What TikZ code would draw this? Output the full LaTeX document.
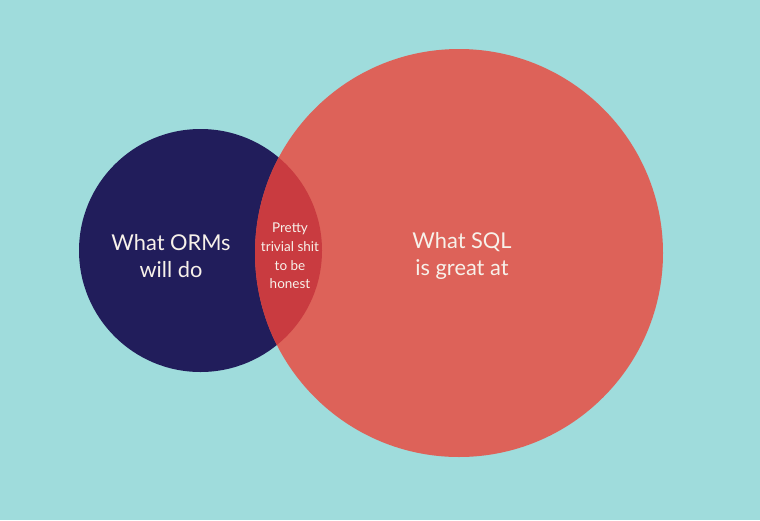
\documentclass[tikz,border=0pt]{standalone}
\usepackage{fontspec}
\setmainfont{Lato}
\definecolor{bg}{HTML}{9FDCDC}
\definecolor{navy}{HTML}{211D5B}
\definecolor{coral}{HTML}{DD6259}
\definecolor{overlap}{HTML}{C93B40}
\definecolor{txt}{HTML}{F7F1EA}
\begin{document}
\begin{tikzpicture}[x=1pt,y=-1pt,
  biglabel/.style={text=txt,font=\fontsize{21.8}{27.5}\selectfont,align=center,inner sep=0pt},
  smalllabel/.style={text=txt,font=\fontsize{13.5}{18.8}\selectfont,align=center,inner sep=0pt}]
\fill[bg] (0,0) rectangle (760,520);
\useasboundingbox (0,0) rectangle (760,520);
\node[circle,fill=navy,minimum size=243pt,inner sep=0pt] (orm) at (200.5,250.5) {};
\node[circle,fill=coral,minimum size=408pt,inner sep=0pt] (sql) at (459,253) {};
\begin{scope}
  \clip (200.5,250.5) circle (121.5);
  \fill[overlap] (459,253) circle (204);
\end{scope}
\node[biglabel] (ormtext) at (171,256) {What ORMs\\will do};
\node[biglabel] (sqltext) at (462,256) {What SQL\\is great at};
\node[smalllabel] (midtext) at (290,256) {Pretty\\trivial shit\\to be\\honest};
\end{tikzpicture}
\end{document}
